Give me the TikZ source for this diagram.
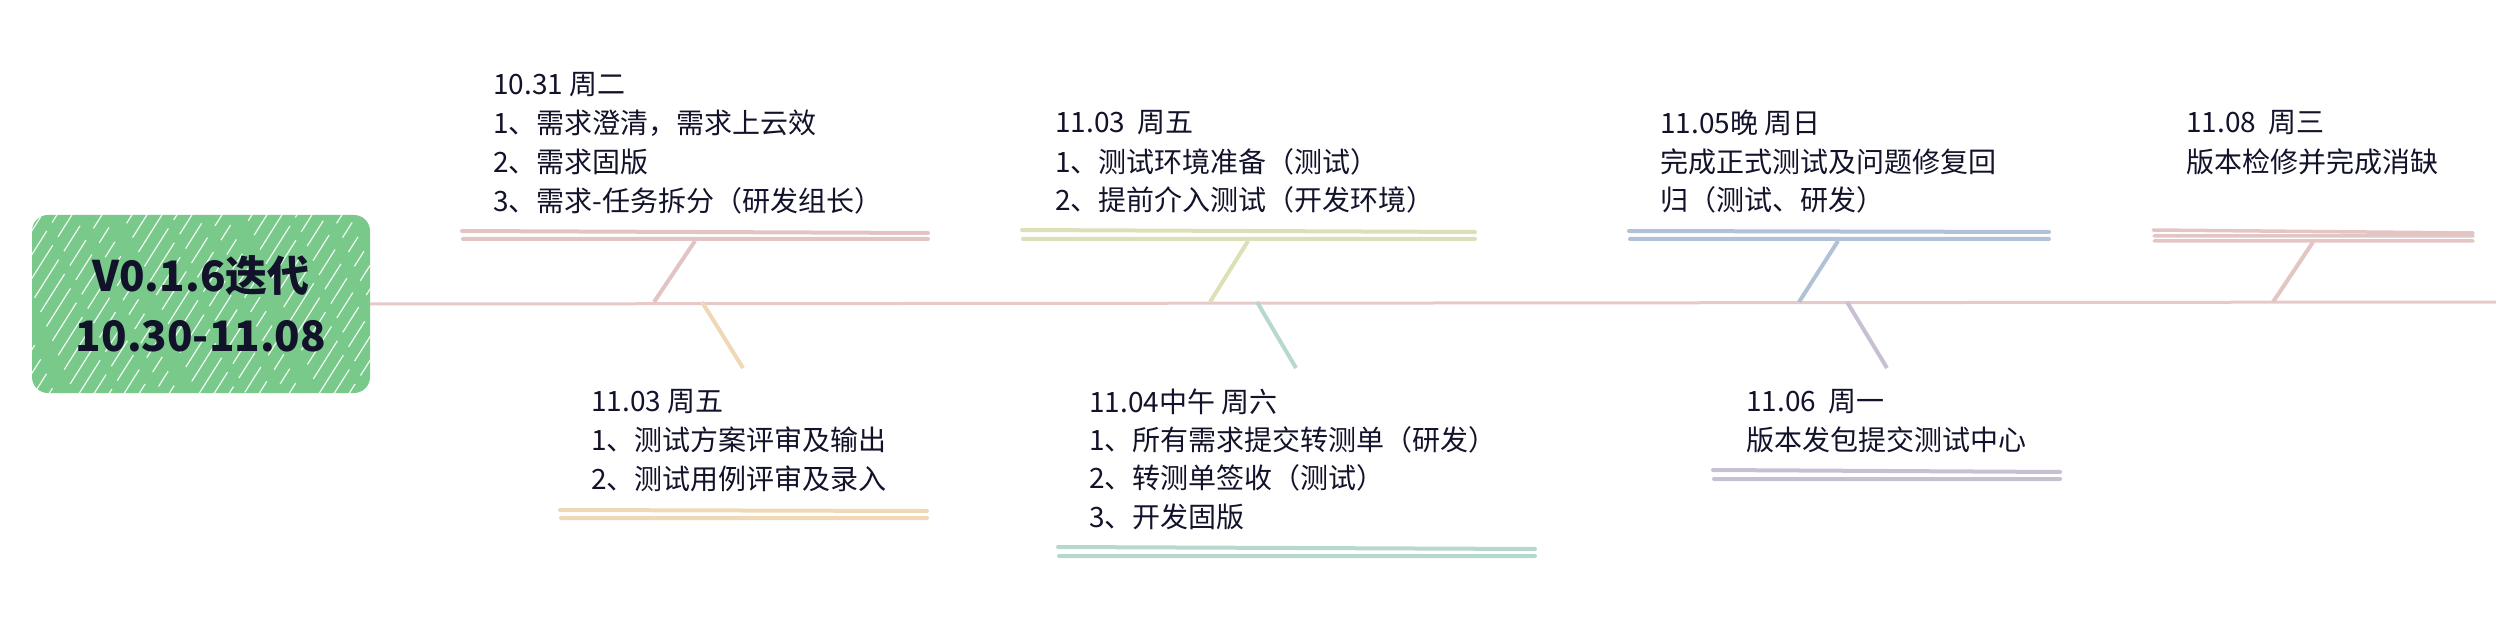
\documentclass[tikz,border=0pt]{standalone}
\usepackage{fontspec}
\setmainfont{Noto Sans CJK SC}
\definecolor{ink}{HTML}{12122A}
\definecolor{boxgreen}{HTML}{78C98A}
\definecolor{spinec}{HTML}{E6CACA}
\definecolor{cA}{HTML}{E2C4C4}
\definecolor{cB}{HTML}{EED8B6}
\definecolor{cC}{HTML}{DDE0B6}
\definecolor{cD}{HTML}{B6D8CE}
\definecolor{cE}{HTML}{B2C2D6}
\definecolor{cF}{HTML}{C9BFD3}
\definecolor{cG}{HTML}{E3C6C3}
\tikzset{
  lbl/.style={anchor=west, inner sep=0, text=ink, font=\fontsize{28}{34}\selectfont},
  rootbox/.style={fill=boxgreen, rounded corners=16, minimum width=338, minimum height=178,
    align=center, text=ink, font=\fontsize{42}{59.5}\selectfont\bfseries, inner sep=0},
  spine/.style={draw=spinec, line width=3},
  uline/.style={line width=4, line cap=round},
  branch/.style={line width=4},
  hatch/.style={white, line width=1.2, opacity=0.9},
}
\begin{document}
\begin{tikzpicture}[x=1pt,y=-1pt]
\useasboundingbox (0,0) rectangle (2496,636);

% root box
\node[rootbox] (root) at (201,304) {};
\begin{scope}
  \clip[rounded corners=16] (32,215) rectangle (370,393);
  \foreach \i in {0,...,31} {
    \draw[hatch, dash pattern=on 30pt off 14pt on 18pt off 22pt on 45pt off 10pt, dash phase=\i*17]
      (\i*15-120, 400) -- ++(120,-190);
  }
\end{scope}
\node[rootbox, fill=none] (roottext) at (201,304) {V0.1.6迭代\\10.30-11.08};

% spine
\coordinate (spineend) at (2496,302);
\draw[spine] (root.east) -- (spineend);

% coordinates on spine
\coordinate (m1) at (654,302);
\coordinate (m2) at (702,302);
\coordinate (m3) at (1210,302);
\coordinate (m4) at (1257,302);
\coordinate (m5) at (1799,302);
\coordinate (m6) at (1847,302);
\coordinate (m7) at (2273,302);
% coordinates on underlines / branch ends
\coordinate (u1) at (695,241);
\coordinate (u2) at (743,368);
\coordinate (u3) at (1248,241);
\coordinate (u4) at (1296,368);
\coordinate (u5) at (1838,241);
\coordinate (u6) at (1887,368);
\coordinate (u7) at (2313,242);

% branches
\draw[branch, draw=cA] (u1) -- (m1);
\draw[branch, draw=cB] (m2) -- (u2);
\draw[branch, draw=cC] (u3) -- (m3);
\draw[branch, draw=cD] (m4) -- (u4);
\draw[branch, draw=cE] (u5) -- (m5);
\draw[branch, draw=cF] (m6) -- (u6);
\draw[branch, draw=cG] (u7) -- (m7);

% underlines
\draw[uline, draw=cA] (462,231) -- (928,233) (463,239) -- (928,239);
\draw[uline, draw=cB] (560,510) -- (927,511) (561,518) -- (927,518);
\draw[uline, draw=cC] (1022,230) -- (1475,232) (1023,239) -- (1475,239);
\draw[uline, draw=cD] (1058,547) -- (1535,549) (1059,556) -- (1535,556);
\draw[uline, draw=cE] (1629,231) -- (2049,232) (1630,239) -- (2049,239);
\draw[uline, draw=cF] (1713,470) -- (2060,472) (1714,479) -- (2060,479);
\draw[uline, draw=cG, line width=3.5] (2153,230) -- (2473,233) (2154,236) -- (2473,236) (2154,241) -- (2473,241);

% topic 1
\node[lbl] (t1a) at (493,85)  {10.31 周二};
\node[lbl] (t1b) at (493,123.5) {1、需求澄清，需求上云效};
\node[lbl] (t1c) at (493,162) {2、需求固版};
\node[lbl] (t1d) at (493,201) {3、需求-任务拆分（研发组长）};
% topic 2
\node[lbl] (t2a) at (591,402) {11.03 周五};
\node[lbl] (t2b) at (591,440) {1、测试方案评审及输出};
\node[lbl] (t2c) at (591,479) {2、测试用例评审及录入};
% topic 3
\node[lbl] (t3a) at (1055,123) {11.03\ \ 周五};
\node[lbl] (t3b) at (1055,162) {1、测试环境准备（测试）};
\node[lbl] (t3c) at (1055,200) {2、提前介入测试（开发环境）};
% topic 4
\node[lbl] (t4a) at (1089,402) {11.04中午 周六};
\node[lbl] (t4b) at (1089,440) {1、所有需求提交转测单（研发）};
\node[lbl] (t4c) at (1089,478) {2、转测单签收（测试）};
\node[lbl] (t4d) at (1089,517) {3、开发固版};
% topic 5
\node[lbl] (t5a) at (1660,123) {11.05晚 周日};
\node[lbl] (t5b) at (1660,162) {完成正式测试及问题修复回};
\node[lbl] (t5c) at (1660,200) {归（测试、研发）};
% topic 6
\node[lbl] (t6a) at (1746,402) {11.06\ \ 周一};
\node[lbl] (t6b) at (1746,440) {版本发包提交测试中心};
% topic 7
\node[lbl] (t7a) at (2186,123) {11.08\ \ 周三};
\node[lbl] (t7b) at (2186,162) {版本检修并完成消缺};
\end{tikzpicture}
\end{document}
